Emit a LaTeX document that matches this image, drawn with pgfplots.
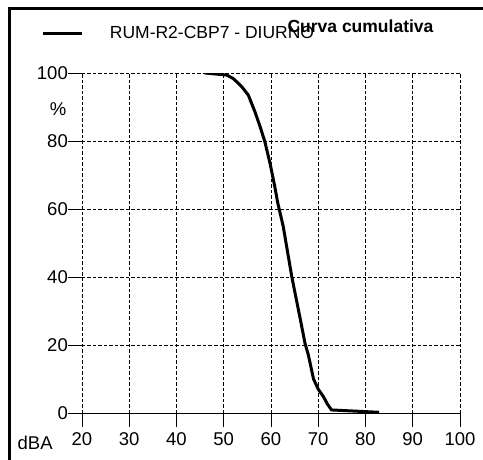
\documentclass[border=0pt]{standalone}
\usepackage{pgfplots}
\pgfplotsset{compat=1.18}
\usepackage{fontspec}
\setmainfont{Liberation Sans}
\begin{document}
\begin{tikzpicture}[x=1pt,y=1pt,font=\fontsize{18.5}{22}\selectfont]
\useasboundingbox (0,0) rectangle (483,459);
\draw[line width=2.5pt] (9.5,-2) -- (9.5,450.5) -- (486,450.5);
\begin{axis}[
  at={(82pt,46pt)}, anchor=origin,
  scale only axis, width=378pt, height=340pt,
  xmin=20, xmax=100, ymin=0, ymax=100,
  xtick={20,30,...,100}, ytick={0,20,...,100},
  /pgf/number format/assume math mode=true,
  axis line style={draw=none},
  tick align=outside, major tick length=14pt,
  tick style={black, line width=0.8pt},
  xtick pos=bottom, ytick pos=left,
  grid=major,
  grid style={black, line width=0.9pt, dash pattern=on 3.5pt off 2pt},
  xticklabel style={inner sep=0pt, anchor=north, yshift=-5pt},
  yticklabel style={inner sep=0pt, anchor=east},
  xlabel={dBA},
  xlabel style={at={(axis description cs:-0.124,-0.088)}, anchor=center, inner sep=0pt},
  ylabel={\%},
  ylabel style={rotate=-90, at={(axis description cs:-0.0635,0.894)}, anchor=center, inner sep=0pt},
  title={Curva cumulativa},
  title style={at={(axis description cs:0.7368,1.1206)}, anchor=center, font=\fontsize{17.5}{21}\bfseries, inner sep=0pt},
  legend style={draw=none, fill=none, at={(axis description cs:-0.106,1.1176)}, anchor=west, inner sep=0pt, outer sep=0pt, font=\fontsize{17.5}{21}\selectfont, nodes={inner sep=0pt}, /tikz/every odd column/.style={column sep=26pt}},
  legend image code/.code={\draw[line width=3pt] (0pt,0pt) -- (39pt,0pt);},
]
\addplot[black, line width=3pt, line join=round] coordinates {
 (46.0,100) (50.6,99.4) (52.0,98.4) (53.8,96.0) (55.2,93.5) (56.6,88.6)
 (57.7,84.2) (58.7,79.8) (59.8,73.4) (60.8,66.6) (61.4,62.0) (62.6,54.8)
 (64.4,40.1) (66.1,28.3) (67.2,20.5) (67.9,17.1) (69.0,10.0) (70.0,7.0) (71.1,4.8) (72.0,2.5) (72.8,0.9)
 (82.9,0.2)
};
\addlegendentry{RUM-R2-CBP7 - DIURNO}
\draw[black, line width=1pt] (axis cs:20,0) -- (axis cs:100,0);
\end{axis}
\end{tikzpicture}
\end{document}
